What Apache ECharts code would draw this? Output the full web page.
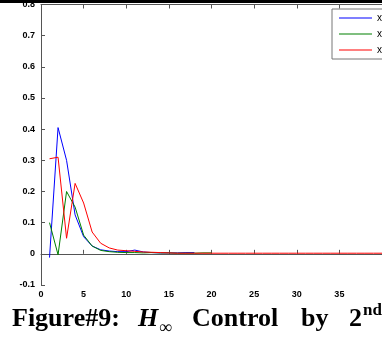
<!DOCTYPE html>
<html>
<head>
<meta charset="utf-8">
<script src="https://cdn.jsdelivr.net/npm/echarts@6/dist/echarts.min.js"></script>
<style>
  html, body { margin: 0; padding: 0; background: #fff; }
  #chart { width: 382px; height: 342px; }
</style>
</head>
<body>
<div id="chart"></div>
<script>
// values sampled at t = 1, 2, 3, ...
const x1Values = [-0.012, 0.405, 0.30, 0.125, 0.055, 0.025, 0.013, 0.009, 0.007, 0.007, 0.012, 0.006, 0.004, 0.003, 0.003, 0.003, 0.004, 0.004];
const x2Values = [0.10, -0.003, 0.20, 0.15, 0.06, 0.025, 0.011, 0.007, 0.005, 0.004, 0.004, 0.003, 0.004, 0.003, 0.003, 0.002, 0.002, 0.002, 0.003, 0.003];
const x3Values = [0.305, 0.31, 0.05, 0.226, 0.163, 0.07, 0.034, 0.019, 0.012, 0.01, 0.008, 0.006, 0.005, 0.004, 0.003, 0.002, 0.002, 0.002, 0.002, 0.002,
  0.002, 0.002, 0.002, 0.002, 0.002, 0.002, 0.002, 0.002, 0.002, 0.002, 0.002, 0.002, 0.002, 0.002, 0.002, 0.002, 0.002, 0.002, 0.002, 0.002];
const seriesNames = ['x1', 'x2', 'x3'];
const seriesColors = ['#0000ff', '#008000', '#ff0000'];
const xTicks = { min: 0, max: 40, interval: 5 };
const yTicks = { min: -0.1, max: 0.8, interval: 0.1 };

const toPairs = (arr) => arr.map((v, i) => [i + 1, v]);

const chart = echarts.init(document.getElementById('chart'));
const axisColor = '#555';
const tickFont = { fontFamily: 'Liberation Sans', fontWeight: 'bold', fontSize: 9, color: '#000' };
const serif = '"Liberation Serif", "Times New Roman", serif';

const option = {
  animation: false,
  backgroundColor: '#fff',
  grid: { left: 41, top: 4, right: -13, bottom: 57 },
  legend: {
    orient: 'vertical',
    left: 332, top: 9,
    padding: [4, 20, 4, 7],
    icon: 'rect',
    itemWidth: 33, itemHeight: 1, itemGap: 6,
    backgroundColor: '#fff',
    borderColor: '#777', borderWidth: 1, borderRadius: 0,
    textStyle: { fontSize: 10, lineHeight: 10, fontFamily: 'Liberation Sans', color: '#000' },
    data: seriesNames
  },
  xAxis: [{
    type: 'value',
    min: xTicks.min, max: xTicks.max, interval: xTicks.interval,
    axisLine: { lineStyle: { color: axisColor, width: 1 } },
    axisTick: { inside: true, length: 4, lineStyle: { color: axisColor } },
    splitLine: { show: false },
    axisLabel: Object.assign({ margin: 5, showMaxLabel: false }, tickFont)
  }, {
    type: 'value', position: 'top',
    min: xTicks.min, max: xTicks.max, interval: xTicks.interval,
    axisLine: { lineStyle: { color: axisColor, width: 1 } },
    axisTick: { inside: true, length: 4, lineStyle: { color: axisColor } },
    splitLine: { show: false },
    axisLabel: { show: false }
  }],
  yAxis: {
    type: 'value',
    min: yTicks.min, max: yTicks.max, interval: yTicks.interval,
    axisLine: { show: true, lineStyle: { color: axisColor, width: 1 } },
    axisTick: { show: true, inside: true, length: 4, lineStyle: { color: axisColor } },
    splitLine: { show: false },
    axisLabel: Object.assign({ margin: 6, formatter: (v) => String(Math.round(v * 10) / 10) }, tickFont)
  },
  series: [x1Values, x2Values, x3Values].map((vals, i) => ({
    name: seriesNames[i],
    type: 'line',
    data: toPairs(vals),
    symbol: 'none',
    color: seriesColors[i],
    lineStyle: { width: 1, color: seriesColors[i] }
  })),
  graphic: [
    { type: 'rect', shape: { x: 0, y: 0, width: 382, height: 3 }, style: { fill: '#000' }, z: 100 },
    { type: 'text', left: 12, top: 306, style: { text: 'Figure#9:', font: 'bold 26px ' + serif, fill: '#000' } },
    { type: 'text', left: 138, top: 306, style: { text: 'H', font: 'italic bold 26px ' + serif, fill: '#000' } },
    { type: 'text', left: 159, top: 319, style: { text: '∞', font: '18px ' + serif, fill: '#000' } },
    { type: 'text', left: 192, top: 306, style: { text: 'Control', font: 'bold 26px ' + serif, fill: '#000' } },
    { type: 'text', left: 301, top: 306, style: { text: 'by', font: 'bold 26px ' + serif, fill: '#000' } },
    { type: 'text', left: 349, top: 306, style: { text: '2', font: 'bold 26px ' + serif, fill: '#000' } },
    { type: 'text', left: 363, top: 302, style: { text: 'nd', font: 'bold 17px ' + serif, fill: '#000' } }
  ]
};

chart.setOption(option);
</script>
</body>
</html>
